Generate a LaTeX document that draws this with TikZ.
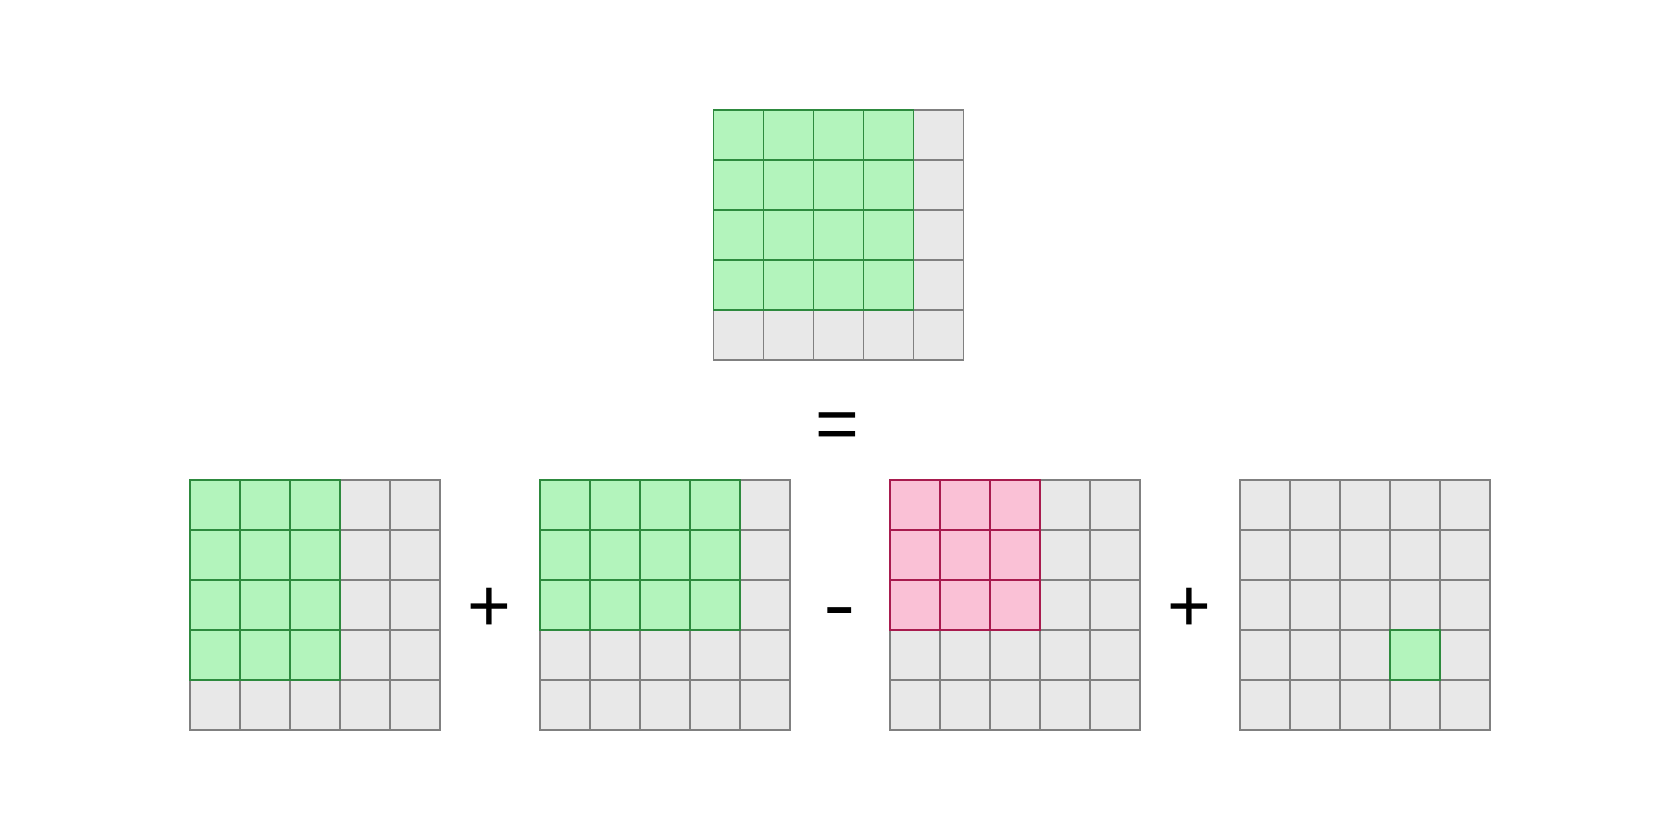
\documentclass[tikz,border=0pt]{standalone}
\usepackage{fontspec}
\setmainfont{Liberation Sans}
\definecolor{cellgray}{HTML}{E8E8E8}
\definecolor{edgegray}{HTML}{808080}
\definecolor{cellgreen}{HTML}{B3F4BC}
\definecolor{edgegreen}{HTML}{2D8A3E}
\definecolor{cellpink}{HTML}{FAC1D6}
\definecolor{edgepink}{HTML}{A81B4E}
\tikzset{
	graycell/.style={draw=edgegray,fill=cellgray,line width=1.3pt},
	greencell/.style={draw=edgegreen,fill=cellgreen,line width=1.3pt},
	pinkcell/.style={draw=edgepink,fill=cellpink,line width=1.3pt},
	op/.style={font=\fontsize{75}{90}\selectfont,inner sep=0pt,anchor=base}
}
\begin{document}
\begin{tikzpicture}[x=1pt,y=-1pt]
	\useasboundingbox (0,0) rectangle (1680,840);
	% top grid: 4x4 block
	\begin{scope}[shift={(713.5,110)}]
		\foreach \i in {0,...,4}
			\foreach \j in {0,...,4}
				\draw[graycell] (50*\i,50*\j) rectangle +(50,50);
		\foreach \i in {0,...,3}
			\foreach \j in {0,...,3}
				\draw[greencell] (50*\i,50*\j) rectangle +(50,50);
	\end{scope}
	% first term: 3 wide, 4 high
	\begin{scope}[shift={(190,480)}]
		\foreach \i in {0,...,4}
			\foreach \j in {0,...,4}
				\draw[graycell] (50*\i,50*\j) rectangle +(50,50);
		\foreach \i in {0,...,2}
			\foreach \j in {0,...,3}
				\draw[greencell] (50*\i,50*\j) rectangle +(50,50);
	\end{scope}
	% second term: 4 wide, 3 high
	\begin{scope}[shift={(540,480)}]
		\foreach \i in {0,...,4}
			\foreach \j in {0,...,4}
				\draw[graycell] (50*\i,50*\j) rectangle +(50,50);
		\foreach \i in {0,...,3}
			\foreach \j in {0,...,2}
				\draw[greencell] (50*\i,50*\j) rectangle +(50,50);
	\end{scope}
	% third term: 3x3 overlap
	\begin{scope}[shift={(890,480)}]
		\foreach \i in {0,...,4}
			\foreach \j in {0,...,4}
				\draw[graycell] (50*\i,50*\j) rectangle +(50,50);
		\foreach \i in {0,...,2}
			\foreach \j in {0,...,2}
				\draw[pinkcell] (50*\i,50*\j) rectangle +(50,50);
	\end{scope}
	% fourth term: single cell
	\begin{scope}[shift={(1240,480)}]
		\foreach \i in {0,...,4}
			\foreach \j in {0,...,4}
				\draw[graycell] (50*\i,50*\j) rectangle +(50,50);
		\draw[greencell] (150,150) rectangle +(50,50);
	\end{scope}
	% operators (placed by baseline)
	\node[op] (eq) at (837.3,449.8) {=};
	\node[op] (plusa) at (489.5,631.5) {+};
	\node[op] (minus) at (839.7,630) {\scalebox{1.3}[1]{-}};
	\node[op] (plusb) at (1189.3,631.5) {+};
\end{tikzpicture}
\end{document}
